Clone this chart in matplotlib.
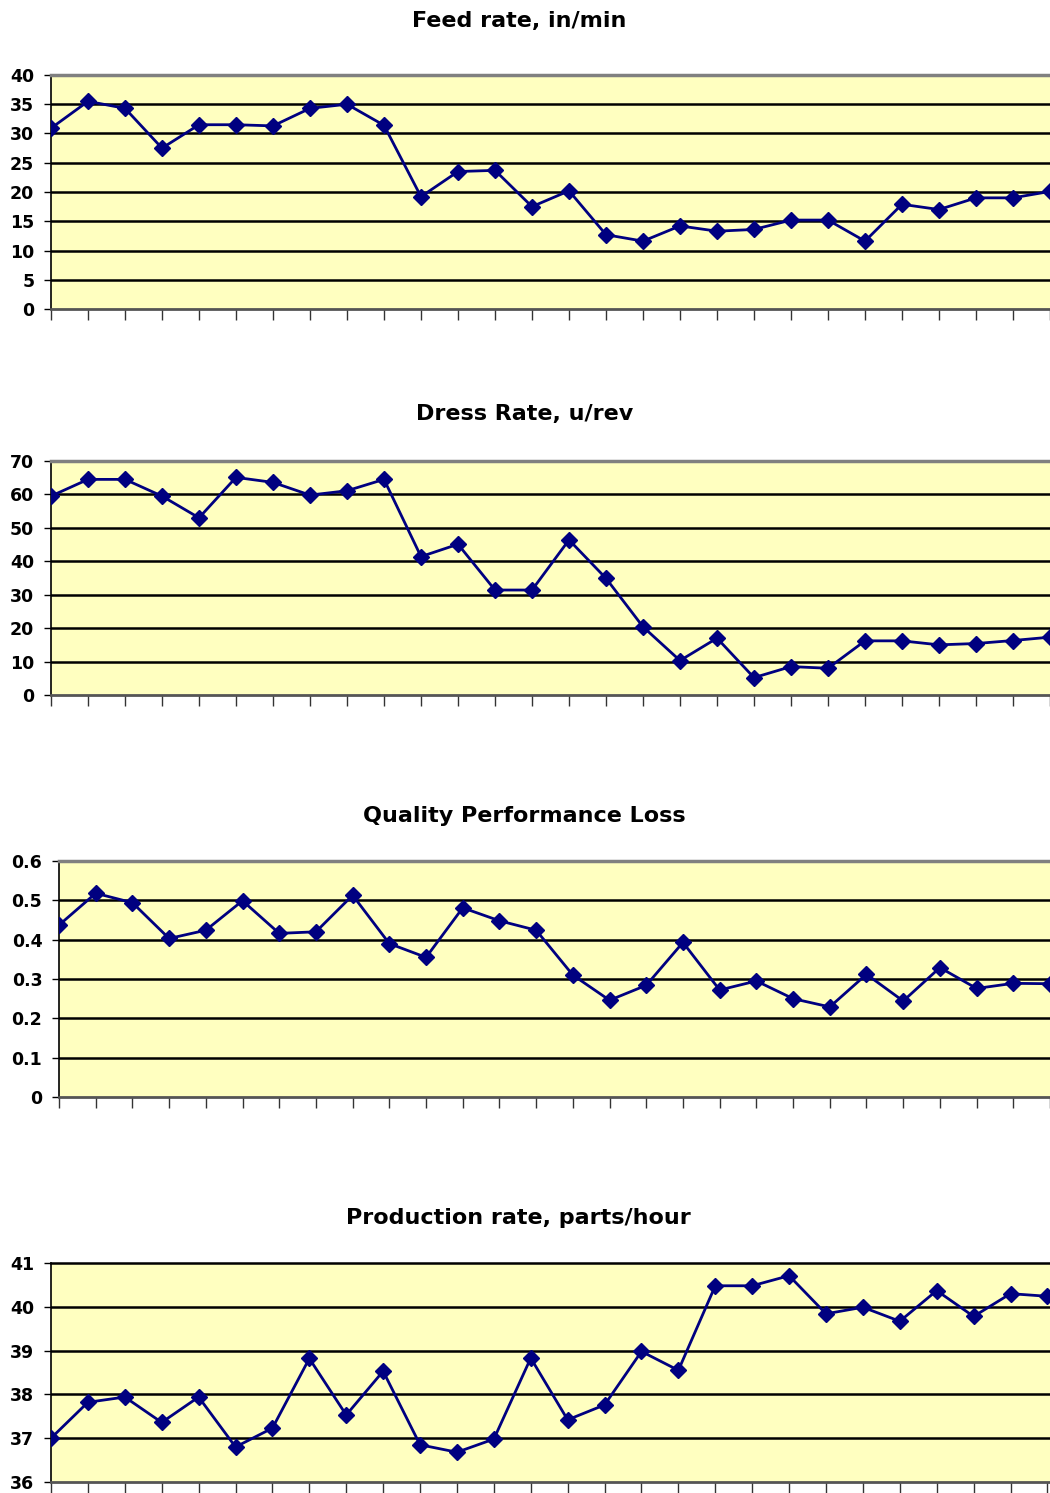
import numpy as np
import matplotlib
matplotlib.use("Agg")
import matplotlib.pyplot as plt

plt.rcParams['font.family'] = ['DejaVu Sans']

# data (28 samples per panel)
feed_rate = [30.9, 35.5, 34.3, 27.5, 31.5, 31.5, 31.3, 34.3, 35.0, 31.4,
             19.2, 23.5, 23.7, 17.5, 20.2, 12.7, 11.6, 14.2, 13.3, 13.6,
             15.2, 15.2, 11.6, 17.9, 17.0, 19.0, 19.0, 20.1]
dress_rate = [59.5, 64.5, 64.5, 59.5, 53.0, 65.1, 63.6, 59.8, 61.1, 64.5,
              41.4, 45.1, 31.4, 31.4, 46.4, 34.9, 20.4, 10.3, 17.0, 5.2,
              8.5, 8.0, 16.2, 16.2, 15.0, 15.4, 16.3, 17.3]
quality_loss = [0.437, 0.518, 0.494, 0.403, 0.424, 0.499, 0.416, 0.420, 0.513, 0.390,
                0.355, 0.481, 0.448, 0.424, 0.310, 0.246, 0.284, 0.393, 0.272, 0.295,
                0.250, 0.229, 0.312, 0.244, 0.329, 0.276, 0.289, 0.288]
production = [37.0, 37.82, 37.94, 37.36, 37.94, 36.80, 37.23, 38.82, 37.53, 38.53,
              36.85, 36.68, 36.98, 38.83, 37.42, 37.76, 38.98, 38.55, 40.48, 40.48,
              40.71, 39.84, 39.99, 39.67, 40.37, 39.78, 40.30, 40.24]

titles = ["Feed rate, in/min", "Dress Rate, u/rev",
          "Quality Performance Loss", "Production rate, parts/hour"]
series = [feed_rate, dress_rate, quality_loss, production]
y_ticks = [np.arange(0, 41, 5), np.arange(0, 71, 10),
           np.round(np.arange(0, 0.61, 0.1), 1), np.arange(36, 42, 1)]
tick_labels = [[str(v) for v in y_ticks[0]], [str(v) for v in y_ticks[1]],
               ["0", "0.1", "0.2", "0.3", "0.4", "0.5", "0.6"],
               [str(v) for v in y_ticks[3]]]

W, H = 1050, 1493
fig = plt.figure(figsize=(W / 100, H / 100), dpi=100)

# panel layout in pixels: left, top, bottom, x-right-limit, title x, title y
layout = [
    (51, 75, 309, 26.83, 519, 21),
    (51, 461, 695, 26.83, 525, 414),
    (59, 861, 1097, 26.87, 524, 816),
    (51, 1263, 1482, 27.07, 518, 1218),
]

for i, (left, top, bottom, xr, tx, ty) in enumerate(layout):
    ax = fig.add_axes([left / W, 1 - bottom / H, (W - left) / W, (bottom - top) / H])
    ax.set_facecolor("#FFFFC0")
    x = np.arange(len(series[i]))
    ax.plot(x, series[i], color="#000080", lw=2.0, marker="D",
            markersize=8.5, markerfacecolor="#000080", markeredgecolor="#000080", zorder=5)
    ax.set_xlim(0, xr)
    ax.set_ylim(y_ticks[i][0], y_ticks[i][-1])
    ax.set_yticks(y_ticks[i])
    ax.set_yticklabels(tick_labels[i], fontsize=12.5, fontweight="bold")
    ax.set_xticks(x)
    ax.set_xticklabels([])
    for v in y_ticks[i][1:-1]:
        ax.axhline(v, color="black", lw=1.8, zorder=2)
    ax.tick_params(axis="y", length=5, width=1, pad=7, color="black")
    ax.tick_params(axis="x", length=8, width=1, color="#333333", direction="out")
    ax.spines["right"].set_visible(False)
    ax.spines["left"].set_color("black")
    ax.spines["left"].set_linewidth(1.2)
    ax.spines["bottom"].set_color("#555555")
    ax.spines["bottom"].set_linewidth(2)
    if i < 3:
        ax.spines["top"].set_color("#808080")
        ax.spines["top"].set_linewidth(2.5)
    else:
        ax.spines["top"].set_color("black")
        ax.spines["top"].set_linewidth(1.8)
    fig.text(tx / W, 1 - ty / H, titles[i], ha="center", va="center",
             fontsize=16, fontweight="bold")

fig.savefig("out.png", dpi=100)
